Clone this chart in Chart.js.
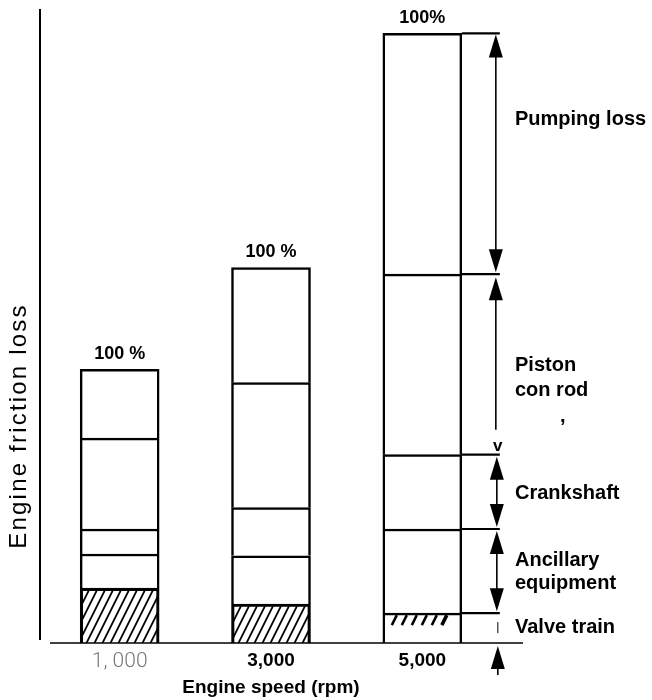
<!DOCTYPE html>
<html><head><meta charset="utf-8">
<script src="https://cdn.jsdelivr.net/npm/chart.js@4"></script>
<style>html,body{margin:0;padding:0;background:#fff}#wrap{width:652px;height:700px;position:relative}</style>
</head><body><div id="wrap"><canvas id="c"></canvas></div>
<script>
// ---- data (relative units, 5,000 rpm total = 100) ----
const categories = ['1, 000', '3,000', '5,000'];
const valveTrain   = [9.0, 6.4, 4.9];
const ancillary    = [5.6, 7.9, 13.8];
const crankshaft   = [4.1, 7.9, 12.2];
const pistonConRod = [14.9, 20.5, 29.6];
const pumpingLoss  = [11.3, 18.9, 39.5];
const totalLabels  = ['100 %', '100 %', '100%'];
const componentNames = ['Valve train', 'Ancillary equipment', 'Crankshaft', 'Piston con rod', 'Pumping loss'];
const xTitle = 'Engine speed (rpm)';
const yTitle = 'Engine friction loss';

const FONT = '"Liberation Sans", Arial, Helvetica, sans-serif';
const INK = '#000';

function hatchPattern() {
  const c = document.createElement('canvas'); c.width = 8; c.height = 16;
  const g = c.getContext('2d'); g.strokeStyle = INK; g.lineWidth = 1.8;
  [[-9, 18, 1, -2], [-1, 18, 9, -2], [7, 18, 17, -2]].forEach(([a, b, p, q]) => {
    g.beginPath(); g.moveTo(a, b); g.lineTo(p, q); g.stroke();
  });
  return g.createPattern(c, 'repeat');
}
const HATCH = hatchPattern();

// annotation text spots (value units on the y scale)
const sideLabels = [
  { text: 'Pumping loss', v: 85.8 },
  { text: 'Piston', v: 45.6 },
  { text: 'con rod', v: 41.5 },
  { text: ',', v: 37.2, dx: 45 },
  { text: 'Crankshaft', v: 24.6 },
  { text: 'Ancillary', v: 13.6 },
  { text: 'equipment', v: 9.8 },
  { text: 'Valve train', v: 2.5 }
];

const deco = {
  id: 'deco',
  afterDatasetsDraw(chart) {
    const { ctx, chartArea: ca, scales: { y } } = chart;
    const metas = componentNames.map((_, i) => chart.getDatasetMeta(i));
    const y0 = y.getPixelForValue(0);
    const line = (x1, y1, x2, y2, w) => { ctx.lineWidth = w; ctx.beginPath(); ctx.moveTo(x1, y1); ctx.lineTo(x2, y2); ctx.stroke(); };
    const head = (x, tip, up) => {
      const len = 23, hw = 7, base = up ? tip + len : tip - len;
      ctx.beginPath(); ctx.moveTo(x, tip); ctx.lineTo(x - hw, base); ctx.lineTo(x + hw, base); ctx.closePath(); ctx.fill();
    };
    const dbl = (x, a, b) => { line(x, a + 10, x, b - 10, 1.6); head(x, a, true); head(x, b, false); };

    ctx.save();
    ctx.strokeStyle = INK; ctx.fillStyle = INK;

    // axis lines
    line(ca.left - 4, ca.top, ca.left - 4, y0 - 3, 2);
    line(ca.left + 6, y0, ca.right + 25, y0, 1.5);

    // totals above bars
    ctx.font = 'bold 18px ' + FONT; ctx.textAlign = 'center'; ctx.textBaseline = 'middle';
    metas[metas.length - 1].data.forEach((el, i) => ctx.fillText(totalLabels[i], el.x, el.y - 15));

    // dimensioning on the 5,000 rpm bar
    const els = metas.map(m => m.data[2]);
    const left = els[0].x - els[0].width / 2;
    const right = els[0].x + els[0].width / 2;
    const ext = right + 38, ax = right + 34;
    els.forEach(el => line(right, el.y, ext, el.y, 2.2));
    const [b1, b2, b3, b4, b5] = els.map(e => e.y);

    // partial hatch marks of the valve train segment
    ctx.lineCap = 'butt';
    for (let i = 0; i < 6; i++) {
      const x0 = left + 9 + i * 10;
      line(x0, b1 + 12, x0 + 5, b1 + 2, i === 5 ? 3.5 : 2.5);
    }

    dbl(ax, b5 + 1, b4 - 2);                 // pumping loss
    head(ax, b4 + 3, true);                  // piston / con rod
    line(ax, b4 + 12, ax, b3 - 25, 1.6);
    ctx.font = 'bold 17px ' + FONT; ctx.textAlign = 'center'; ctx.textBaseline = 'middle';
    ctx.fillText('v', ax + 2, b3 - 8);
    dbl(ax + 1, b3 + 2, b2 - 2);             // crankshaft
    dbl(ax + 1, b2 + 2, b1 - 2);             // ancillary
    line(ax + 2, b1 + 9, ax + 2, b1 + 20, 1); // valve train
    head(ax + 2, y0 + 3, true);
    line(ax + 2, y0 + 15, ax + 2, y0 + 32, 1.6);

    // side labels
    ctx.font = 'bold 20px ' + FONT; ctx.textAlign = 'left'; ctx.textBaseline = 'middle';
    sideLabels.forEach(s => ctx.fillText(s.text, ca.right + 17 + (s.dx || 0), y.getPixelForValue(s.v)));

    // y title
    ctx.save();
    ctx.translate(ca.left - 25, y.getPixelForValue(35.6));
    ctx.rotate(-Math.PI / 2);
    ctx.font = '24px ' + FONT;
    try { ctx.letterSpacing = '2.2px'; } catch (e) {}
    ctx.textAlign = 'center'; ctx.textBaseline = 'middle';
    ctx.fillText(yTitle, 0, 0);
    ctx.restore();

    ctx.restore();
  }
};

const fills = [
  (c) => c.dataIndex === 2 ? '#fff' : HATCH,
  '#fff', '#fff', '#fff', '#fff'
];
const series = [valveTrain, ancillary, crankshaft, pistonConRod, pumpingLoss];

new Chart(document.getElementById('c'), {
  type: 'bar',
  data: {
    labels: categories,
    datasets: series.map((d, i) => ({
      label: componentNames[i],
      data: d,
      backgroundColor: fills[i],
      borderColor: INK,
      borderWidth: 2.5,
      borderSkipped: 'bottom',
      barThickness: 79,
      stack: 's'
    }))
  },
  options: {
    responsive: true,
    maintainAspectRatio: false,
    animation: false,
    devicePixelRatio: 1,
    layout: { padding: { left: 44, right: 154, top: 9, bottom: 0 } },
    plugins: { legend: { display: false }, tooltip: { enabled: false }, title: { display: false } },
    scales: {
      x: {
        stacked: true,
        grid: { display: false, drawTicks: false },
        border: { display: false },
        ticks: {
          padding: 6,
          maxRotation: 0,
          autoSkip: false,
          color: (c) => c.index === 0 ? '#777' : INK,
          font: (c) => c.index === 0
            ? { family: 'Roboto, "DejaVu Sans", sans-serif', size: 21, weight: '300' }
            : { family: FONT, size: 19, weight: 'bold' }
        },
        title: {
          display: true, text: xTitle, color: INK,
          font: { family: FONT, size: 19, weight: 'bold' },
          padding: { top: 0, bottom: 1 }
        },
        afterFit: (s) => { s.height = 57; }
      },
      y: {
        stacked: true, display: false, min: 0, max: 104
      }
    }
  },
  plugins: [deco]
});
</script>
</body></html>
